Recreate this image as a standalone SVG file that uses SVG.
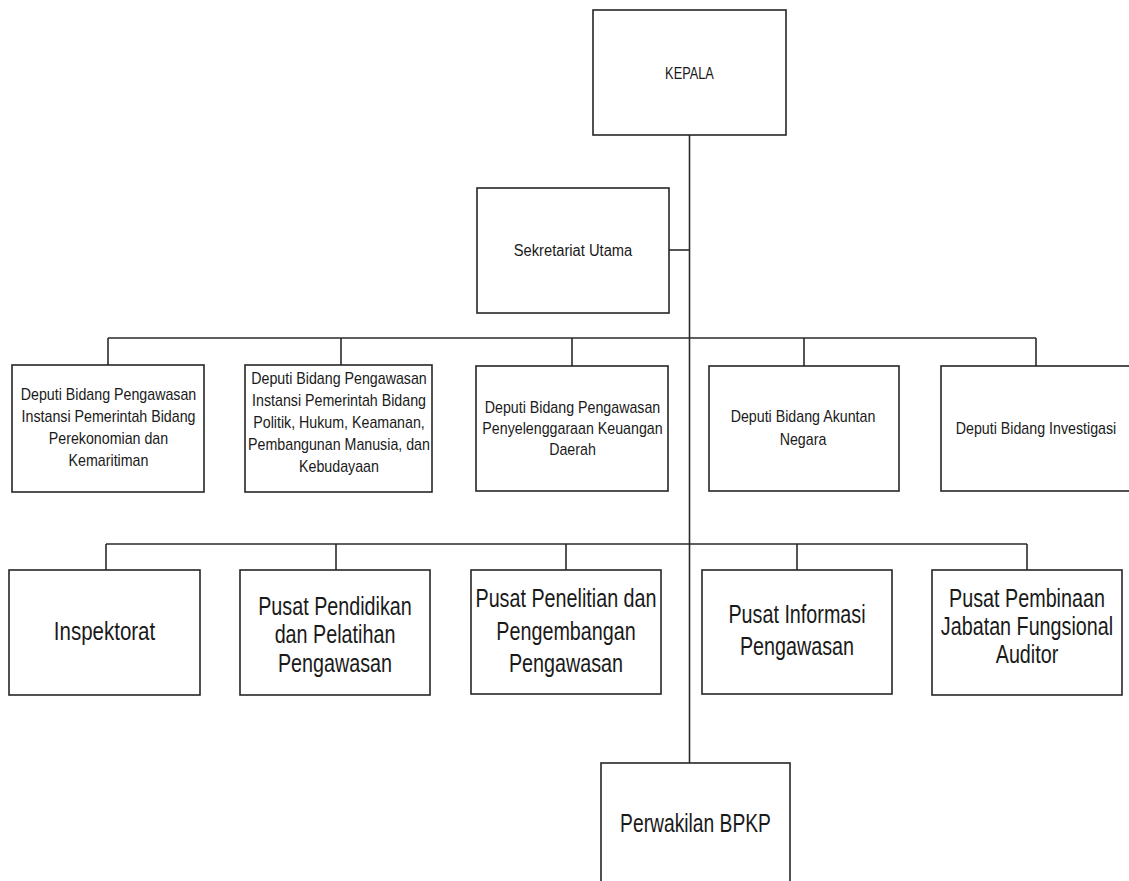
<svg xmlns="http://www.w3.org/2000/svg" width="1129" height="881" viewBox="0 0 1129 881">
<style>
.box{fill:#fff;stroke:#262626;stroke-width:1.6}
.ln{fill:none;stroke:#2b2b2b;stroke-width:1.6}
.s{font-family:"Liberation Sans",Arial,sans-serif;font-size:16px;fill:#1a1a1a;text-anchor:middle}
.b{font-family:"Liberation Sans",Arial,sans-serif;font-size:25px;fill:#1a1a1a;text-anchor:middle}
</style>
<rect width="1129" height="881" fill="#fff"/>
<g id="connectors">
<path class="ln" d="M689.5 135V763"/>
<path class="ln" d="M669 250H689.5"/>
<path class="ln" d="M108 338H1036M108 338V365M341 338V365M572 338V366M804 338V366M1036 338V366"/>
<path class="ln" d="M106 544H1027M106 544V570M336 544V570M566 544V570M797 544V570M1027 544V570"/>
</g>
<g id="kepala">
<rect class="box" x="593" y="10" width="193" height="125"/>
<text class="s" transform="translate(689.5,0) scale(0.8,1)"><tspan x="0" y="79">KEPALA</tspan></text>
</g>
<g id="sekretariat">
<rect class="box" x="477" y="188" width="192" height="125"/>
<text class="s" transform="translate(573,0) scale(0.92,1)"><tspan x="0" y="256">Sekretariat Utama</tspan></text>
</g>
<g id="deputi1">
<rect class="box" x="12" y="365" width="192" height="127"/>
<text class="s" transform="translate(108.5,0) scale(0.89,1)"><tspan x="0" y="400">Deputi Bidang Pengawasan</tspan><tspan x="0" y="422">Instansi Pemerintah Bidang</tspan><tspan x="0" y="444">Perekonomian dan</tspan><tspan x="0" y="466">Kemaritiman</tspan></text>
</g>
<g id="deputi2">
<rect class="box" x="245" y="365" width="187" height="127"/>
<text class="s" transform="translate(339,0) scale(0.89,1)"><tspan x="0" y="384">Deputi Bidang Pengawasan</tspan><tspan x="0" y="406">Instansi Pemerintah Bidang</tspan><tspan x="0" y="428">Politik, Hukum, Keamanan,</tspan><tspan x="0" y="450">Pembangunan Manusia, dan</tspan><tspan x="0" y="472">Kebudayaan</tspan></text>
</g>
<g id="deputi3">
<rect class="box" x="476" y="366" width="192" height="125"/>
<text class="s" transform="translate(572.5,0) scale(0.89,1)"><tspan x="0" y="413">Deputi Bidang Pengawasan</tspan><tspan x="0" y="434">Penyelenggaraan Keuangan</tspan><tspan x="0" y="455">Daerah</tspan></text>
</g>
<g id="deputi4">
<rect class="box" x="709" y="366" width="190" height="125"/>
<text class="s" transform="translate(803,0) scale(0.89,1)"><tspan x="0" y="422">Deputi Bidang Akuntan</tspan><tspan x="0" y="445">Negara</tspan></text>
</g>
<g id="deputi5">
<rect class="box" x="941" y="366" width="192" height="125"/>
<text class="s" transform="translate(1036,0) scale(0.89,1)"><tspan x="0" y="434">Deputi Bidang Investigasi</tspan></text>
</g>
<g id="inspektorat">
<rect class="box" x="9" y="570" width="191" height="125"/>
<text class="b" transform="translate(104.5,0) scale(0.82,1)"><tspan x="0" y="640">Inspektorat</tspan></text>
</g>
<g id="pusdiklat">
<rect class="box" x="240" y="570" width="190" height="125"/>
<text class="b" transform="translate(335,0) scale(0.79,1)"><tspan x="0" y="615">Pusat Pendidikan</tspan><tspan x="0" y="643">dan Pelatihan</tspan><tspan x="0" y="672">Pengawasan</tspan></text>
</g>
<g id="puslitbang">
<rect class="box" x="471" y="570" width="190" height="124"/>
<text class="b" transform="translate(566,0) scale(0.79,1)"><tspan x="0" y="607">Pusat Penelitian dan</tspan><tspan x="0" y="640">Pengembangan</tspan><tspan x="0" y="672">Pengawasan</tspan></text>
</g>
<g id="pusinfowas">
<rect class="box" x="702" y="570" width="190" height="124"/>
<text class="b" transform="translate(797,0) scale(0.79,1)"><tspan x="0" y="623">Pusat Informasi</tspan><tspan x="0" y="655">Pengawasan</tspan></text>
</g>
<g id="pusbin">
<rect class="box" x="932" y="570" width="190" height="125"/>
<text class="b" transform="translate(1027,0) scale(0.79,1)"><tspan x="0" y="607">Pusat Pembinaan</tspan><tspan x="0" y="635">Jabatan Fungsional</tspan><tspan x="0" y="663">Auditor</tspan></text>
</g>
<g id="perwakilan">
<rect class="box" x="601" y="763" width="189" height="140"/>
<text class="b" transform="translate(695.5,0) scale(0.77,1)"><tspan x="0" y="832">Perwakilan BPKP</tspan></text>
</g>
</svg>
